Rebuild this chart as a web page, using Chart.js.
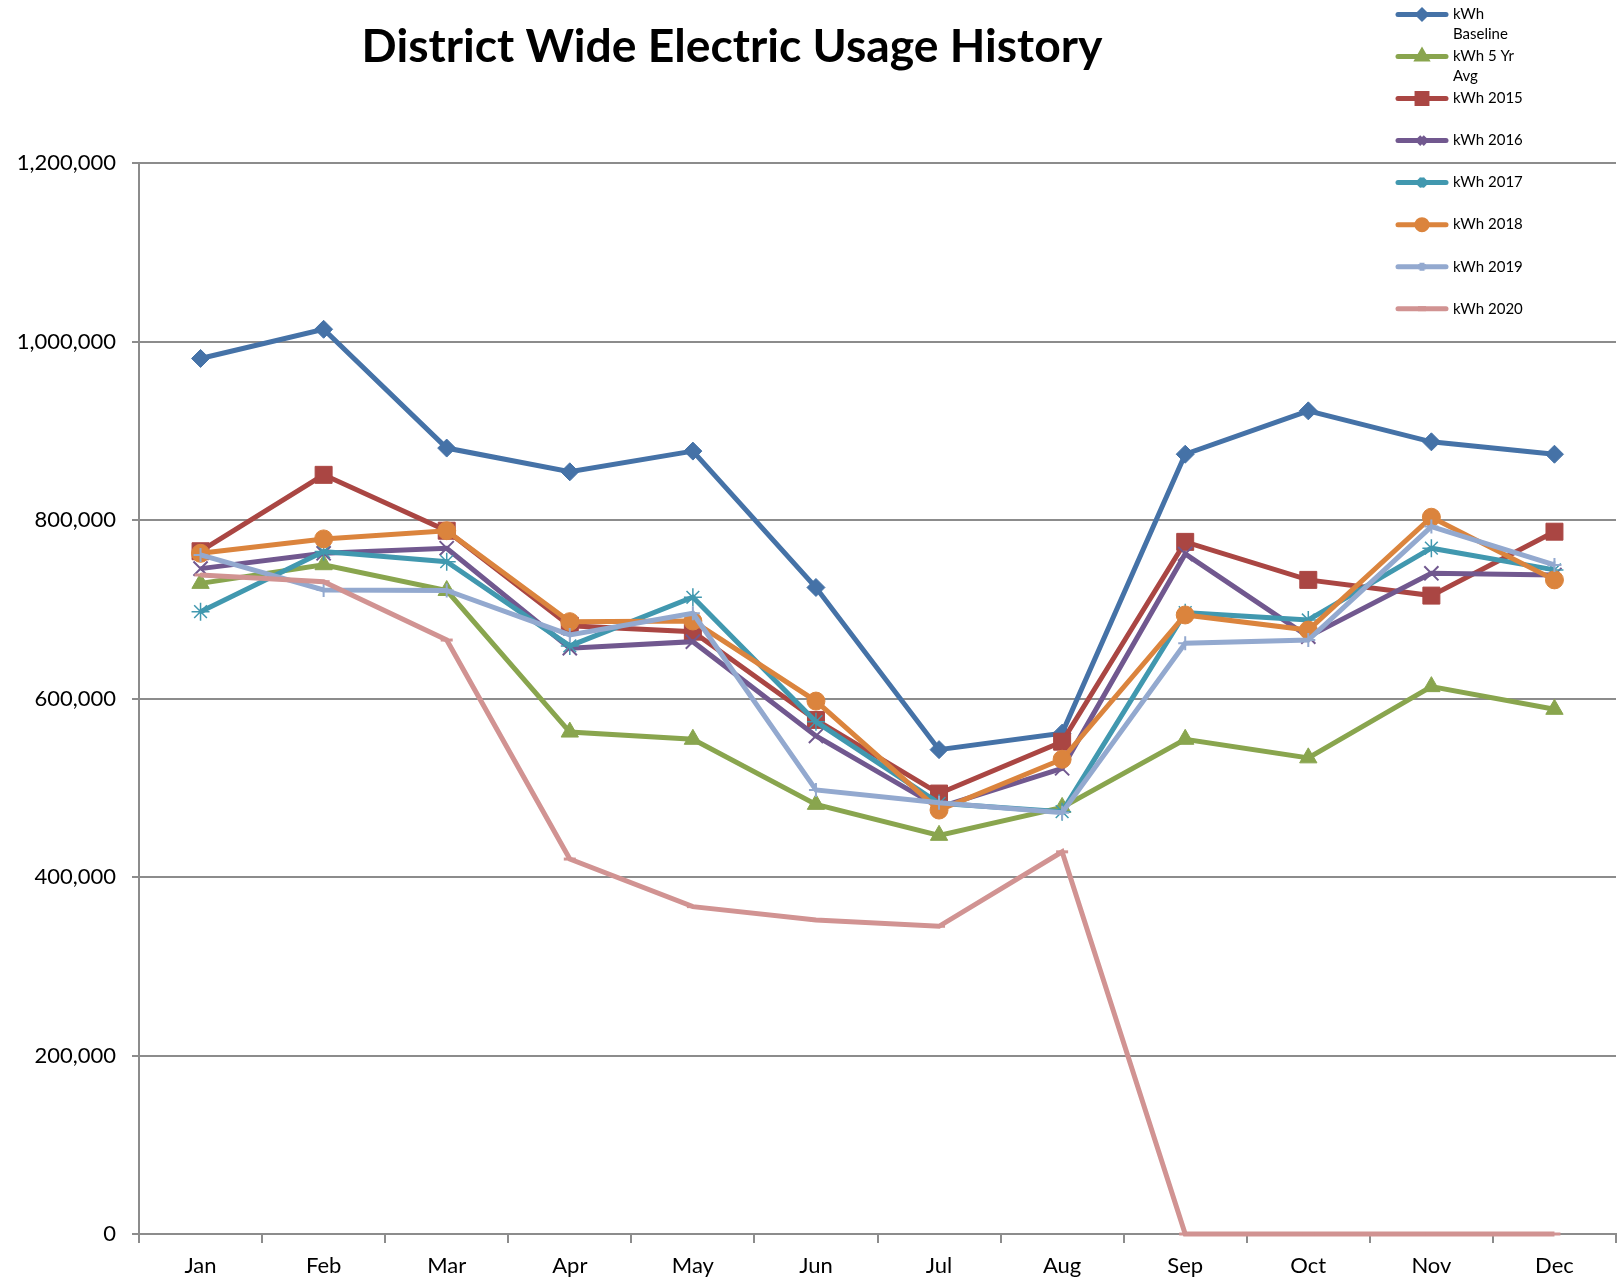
<!DOCTYPE html>
<html><head><meta charset="utf-8">
<script src="https://cdn.jsdelivr.net/npm/chart.js@4/dist/chart.umd.min.js"></script>
<style>html,body{margin:0;padding:0;background:#fff;}#wrap{width:1619px;height:1283px;}</style>
</head><body><div id="wrap"><canvas id="c" width="1619" height="1283"></canvas></div>
<script>
const chartTitle = 'District Wide Electric Usage History';
const months = ['Jan','Feb','Mar','Apr','May','Jun','Jul','Aug','Sep','Oct','Nov','Dec'];
const yTickValues = [0, 200000, 400000, 600000, 800000, 1000000, 1200000];
const yTickLabels = ['0', '200,000', '400,000', '600,000', '800,000', '1,000,000', '1,200,000'];

const kwhBaseline = [981000, 1013700, 880600, 854000, 877200, 724400, 542700, 561200, 873700, 922300, 887600, 873700];
const kwh5YrAvg   = [729000, 749900, 721000, 562400, 554300, 481400, 446700, 478000, 554300, 533500, 613300, 587900];
const kwh2015     = [765000, 850600, 788000, 681600, 674900, 576000, 493500, 551600, 775500, 732900, 715300, 786900];
const kwh2016     = [745500, 762700, 768400, 656300, 663700, 558000, 478000, 521800, 762000, 669300, 740300, 738400];
const kwh2017     = [697300, 764600, 753300, 658900, 713400, 574000, 482500, 473200, 696200, 688000, 768400, 744100];
const kwh2018     = [762700, 778800, 788000, 686100, 686800, 597100, 475000, 531900, 693600, 676700, 803100, 732900];
const kwh2019     = [760900, 721600, 721000, 671200, 695500, 497500, 483200, 472000, 661900, 665500, 792600, 749600];
const kwh2020     = [738400, 730900, 665500, 420100, 366800, 351800, 344800, 428200, 0, 0, 0, 0];

const seriesLabels = ['kWh Baseline','kWh 5 Yr Avg','kWh 2015','kWh 2016','kWh 2017','kWh 2018','kWh 2019','kWh 2020'];
const seriesData = [kwhBaseline, kwh5YrAvg, kwh2015, kwh2016, kwh2017, kwh2018, kwh2019, kwh2020];

const styles = [
  {color:'#4572A7', point:'rectRot', r:9, pbw:1, lr:4},
  {color:'#89A54E', point:'triangle', r:10, pbw:1, lr:5},
  {color:'#AA4643', point:'rect', r:12, pbw:1, lr:7},
  {color:'#71588F', point:'crossRot', r:10, pbw:2, lr:5},
  {color:'#4198AF', point:'star', r:9, pbw:1.5, lr:5},
  {color:'#DB843D', point:'circle', r:9, pbw:1, lr:5},
  {color:'#93A9CF', point:'cross', r:7, pbw:2, lr:4},
  {color:'#D19392', point:'line', r:6, pbw:3, lr:4}
];

const FONT = 'Lato, "Open Sans", sans-serif';

const datasets = seriesData.map((d, i) => ({
  label: seriesLabels[i],
  data: d,
  borderColor: styles[i].color,
  backgroundColor: styles[i].color,
  borderWidth: 5,
  pointStyle: styles[i].point,
  pointRadius: styles[i].r,
  pointBorderWidth: styles[i].pbw,
  pointBackgroundColor: styles[i].color,
  pointBorderColor: styles[i].color,
  tension: 0,
  clip: false,
  order: seriesData.length - i
}));

const overlayPlugin = {
  id: 'overlay',
  afterDraw(chart) {
    const ctx = chart.ctx;
    ctx.save();
    let size = 46;
    ctx.font = 'bold ' + size + 'px ' + FONT;
    const w = ctx.measureText(chartTitle).width;
    size = Math.min(50, size * 741 / w);
    ctx.font = 'bold ' + size + 'px ' + FONT;
    ctx.fillStyle = '#000';
    ctx.textAlign = 'center';
    ctx.textBaseline = 'alphabetic';
    ctx.fillText(chartTitle, 732, 62);
    ctx.font = '15px ' + FONT;
    ctx.textAlign = 'left';
    ctx.textBaseline = 'middle';
    const maxW = 75;
    chart.data.datasets.forEach((ds, i) => {
      const y = 14.5 + i * 42.03;
      ctx.strokeStyle = ds.borderColor;
      ctx.lineWidth = 5;
      ctx.lineCap = 'round';
      ctx.beginPath(); ctx.moveTo(1398, y); ctx.lineTo(1446, y); ctx.stroke();
      ctx.lineCap = 'butt';
      ctx.fillStyle = ds.borderColor;
      Chart.helpers.drawPoint(ctx, {pointStyle: ds.pointStyle, radius: styles[i].lr, borderWidth: Math.max(1, ds.pointBorderWidth - 0.5), rotation: 0}, 1422, y);
      if (ds.pointStyle !== 'line' && !['cross','crossRot','star'].includes(ds.pointStyle)) ctx.fill();
      const words = ds.label.split(' ');
      const lines = [];
      let cur = '';
      words.forEach(wd => {
        const t = cur ? cur + ' ' + wd : wd;
        if (ctx.measureText(t).width > maxW && cur) { lines.push(cur); cur = wd; } else cur = t;
      });
      lines.push(cur);
      ctx.fillStyle = '#000';
      lines.forEach((ln, k) => ctx.fillText(ln, 1453, y + k * 19.6));
    });
    ctx.restore();
  }
};

new Chart(document.getElementById('c'), {
  type: 'line',
  data: { labels: months, datasets },
  options: {
    responsive: false,
    animation: false,
    devicePixelRatio: 1,
    layout: { autoPadding: false, padding: { left: 0, top: 163, right: 3, bottom: 0 } },
    plugins: { legend: { display: false }, title: { display: false }, tooltip: { enabled: false } },
    scales: {
      x: {
        offset: true,
        grid: { display: true, offset: true, drawOnChartArea: false, drawTicks: true, tickLength: 9, color: '#8c8c8c', lineWidth: 2 },
        border: { display: true, color: '#8c8c8c', width: 2 },
        ticks: { font: { family: FONT, size: 22 }, color: '#000', padding: 10, maxRotation: 0, autoSkip: false },
        afterFit(scale) { scale.height = 49; scale.paddingLeft = 0; scale.paddingRight = 0; }
      },
      y: {
        min: 0, max: 1200000,
        afterBuildTicks(scale) { scale.ticks = yTickValues.map(v => ({ value: v })); },
        grid: { display: true, drawOnChartArea: true, drawTicks: true, tickLength: 7, color: '#8c8c8c', lineWidth: 2 },
        border: { display: true, color: '#8c8c8c', width: 2 },
        ticks: {
          font: { family: FONT, size: 22 }, color: '#000', padding: 16,
          callback: (v) => { const k = yTickValues.indexOf(v); return k >= 0 ? yTickLabels[k] : ''; }
        },
        afterFit(scale) { scale.width = 139; scale.paddingTop = 0; scale.paddingBottom = 0; }
      }
    }
  },
  plugins: [overlayPlugin]
});
</script></body></html>
